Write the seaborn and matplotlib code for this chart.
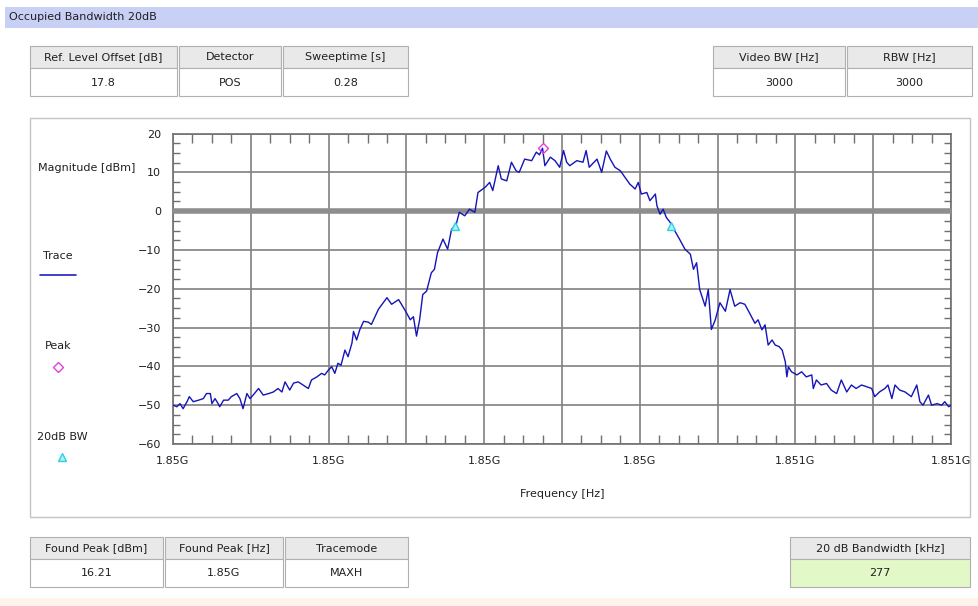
import matplotlib
matplotlib.use("Agg")
import matplotlib.pyplot as plt
from matplotlib.patches import Rectangle
from matplotlib.ticker import MultipleLocator, FuncFormatter
import seaborn as sns

# sweep start, offsets (kHz from start)
start_hz = 1.8498e9
offset_khz = [0, 5, 9, 13, 18, 21, 26, 33, 39, 43, 48, 50, 54, 58, 60, 65, 71, 75, 82, 86,
              90, 95, 99, 103, 110, 116, 123, 129, 135, 140, 144, 150, 155, 161, 167, 174, 178, 185, 191, 195,
              200, 204, 208, 212, 216, 221, 225, 230, 232, 236, 240, 245, 251, 255, 264, 275, 281, 290, 299, 305,
              309, 313, 317, 321, 326, 332, 336, 340, 347, 353, 358, 364, 368, 375, 381, 388, 392, 401, 407, 411,
              418, 422, 429, 435, 441, 445, 452, 461, 467, 471, 475, 478, 485, 491, 497, 502, 506, 510, 519, 527,
              531, 535, 545, 551, 557, 562, 568, 575, 581, 587, 594, 598, 602, 609, 613, 620, 622, 626, 630, 634,
              639, 645, 651, 658, 665, 669, 673, 677, 684, 688, 692, 697, 703, 710, 716, 722, 729, 735, 742, 748,
              752, 757, 761, 765, 770, 774, 779, 783, 787, 789, 791, 795, 802, 808, 814, 821, 823, 827, 833, 840,
              846, 853, 859, 866, 872, 878, 885, 891, 898, 902, 908, 915, 919, 924, 928, 934, 941, 949, 956, 960,
              964, 971, 975, 982, 988, 992, 997, 1000]
level_dbm = [-50.0, -50.4, -49.6, -50.9, -49.1, -47.8, -49.1, -48.7, -48.3, -47.0, -47.0, -49.6, -48.3, -49.6, -50.4, -48.7, -48.7, -47.8, -47.0, -48.3,
             -50.9, -47.0, -48.3, -47.4, -45.7, -47.4, -47.0, -46.6, -45.7, -46.6, -44.0, -46.1, -44.3, -44.0, -44.8, -45.7, -43.5, -42.7, -41.8, -42.2,
             -40.9, -40.1, -41.8, -39.2, -39.7, -35.8, -37.5, -34.0, -31.0, -33.2, -30.6, -28.4, -28.6, -29.2, -25.3, -22.3, -24.0, -22.8, -25.8, -28.0,
             -27.2, -32.2, -28.0, -21.5, -20.6, -15.9, -15.0, -10.7, -7.2, -9.8, -4.7, -3.4, -0.3, -1.2, 0.5, -0.3, 4.8, 6.1, 7.4, 5.3,
             11.7, 8.3, 7.8, 12.6, 10.4, 10.0, 13.4, 13.0, 15.2, 14.5, 16.2, 11.7, 13.9, 13.0, 11.3, 15.6, 12.6, 11.7, 13.0, 12.6,
             15.6, 11.3, 13.4, 10.0, 15.5, 13.4, 11.3, 10.4, 8.7, 7.0, 5.7, 7.4, 4.4, 4.8, 2.7, 4.4, 1.4, -0.8, 0.5, -1.6,
             -2.9, -5.1, -7.2, -9.8, -11.1, -15.0, -13.3, -20.2, -24.5, -20.2, -30.5, -28.0, -23.6, -25.8, -20.2, -24.5, -23.6, -24.0, -26.6, -28.9,
             -28.0, -30.6, -29.3, -34.5, -33.2, -34.5, -34.9, -35.8, -38.8, -42.7, -40.1, -41.4, -42.2, -41.4, -42.7, -42.2, -45.7, -43.5, -44.8, -44.4,
             -46.1, -47.0, -43.5, -46.6, -44.8, -45.7, -44.8, -45.2, -45.7, -47.8, -46.6, -45.7, -44.8, -48.3, -44.8, -46.1, -46.6, -47.8, -44.8, -49.1,
             -50.0, -47.4, -50.0, -49.6, -50.0, -49.1, -50.4, -50.0]

peak_khz = 475
peak_dbm = 16.21
bw_khz = [363, 640]
bw_dbm = [-3.79, -3.79]

top_left_head = ['Ref. Level Offset [dB]', 'Detector', 'Sweeptime [s]']
top_left_vals = ['17.8', 'POS', '0.28']
top_right_head = ['Video BW [Hz]', 'RBW [Hz]']
top_right_vals = ['3000', '3000']
bot_left_head = ['Found Peak [dBm]', 'Found Peak [Hz]', 'Tracemode']
bot_left_vals = ['16.21', '1.85G', 'MAXH']
bot_right_head = ['20 dB Bandwidth [kHz]']
bot_right_vals = ['277']

sns.set_style("white")
plt.rcParams['font.family'] = ['DejaVu Sans']
FS = 8
TXT = '#202020'

W, H = 979, 606
fig = plt.figure(figsize=(W / 100, H / 100), dpi=100)

# background layer in pixel coordinates
bg = fig.add_axes([0, 0, 1, 1], zorder=0)
bg.set_xlim(0, W)
bg.set_ylim(H, 0)
bg.axis('off')

bg.add_patch(Rectangle((5, 7), W - 5, 21, facecolor='#c8d0f6', edgecolor='none'))
bg.text(9, 17.5, 'Occupied Bandwidth 20dB', fontsize=FS, color=TXT, va='center')
bg.add_patch(Rectangle((0, 598), W, 8, facecolor='#fdf4ec', edgecolor='none'))
bg.add_patch(Rectangle((30, 118), 940, 399, facecolor='white', edgecolor='#c4c4c4', lw=1))


def table(x_edges, y0, heads, vals, val_color='white'):
    for (x0, x1), h, v in zip(x_edges, heads, vals):
        bg.add_patch(Rectangle((x0, y0), x1 - x0, 22, facecolor='#e9e9e9', edgecolor='#b0b0b0', lw=0.8))
        bg.add_patch(Rectangle((x0, y0 + 22), x1 - x0, 28, facecolor=val_color, edgecolor='#b0b0b0', lw=0.8))
        xc = (x0 + x1) / 2
        bg.text(xc, y0 + 11.5, h, fontsize=FS, color=TXT, ha='center', va='center')
        bg.text(xc, y0 + 36.5, v, fontsize=FS, color=TXT, ha='center', va='center')


table([(30, 177), (179, 281), (283, 408)], 46, top_left_head, top_left_vals)
table([(713, 845), (847, 972)], 46, top_right_head, top_right_vals)
table([(30, 163), (165, 283), (285, 408)], 537, bot_left_head, bot_left_vals)
table([(790, 970)], 537, bot_right_head, bot_right_vals, val_color='#e2f8c6')

# left side legend
bg.text(38, 168, 'Magnitude [dBm]', fontsize=FS, color=TXT, va='center')
bg.text(43, 256, 'Trace', fontsize=FS, color=TXT, va='center')
bg.plot([40, 76], [275, 275], color='#2020c0', lw=1.2)
bg.text(45, 346, 'Peak', fontsize=FS, color=TXT, va='center')
bg.plot([58], [367], marker='D', ms=5, mfc='none', mec='#e040e0', mew=1)
bg.text(37, 437, '20dB BW', fontsize=FS, color=TXT, va='center')
bg.plot([62], [457], marker='^', ms=6, mfc='#a8f2f8', mec='#30d0e0', mew=1)

# spectrum plot
ax = fig.add_axes([173 / W, (H - 444) / H, (951 - 173) / W, (444 - 133.5) / H], zorder=2)
ax.set_facecolor('white')
sns.lineplot(x=offset_khz, y=level_dbm, ax=ax, color='#1414b8', lw=1, sort=False, zorder=4)
ax.plot([peak_khz], [peak_dbm], marker='D', ms=5, mfc='none', mec='#e040e0', mew=1, zorder=5, ls='none')
ax.plot(bw_khz, bw_dbm, marker='^', ms=6, mfc='#a8f2f8', mec='#30d0e0', mew=1, zorder=5, ls='none')

ax.set_xlim(0, 1000)
ax.set_ylim(-60, 20)
ax.xaxis.set_major_locator(MultipleLocator(100))
ax.xaxis.set_minor_locator(MultipleLocator(25))
ax.yaxis.set_major_locator(MultipleLocator(10))
ax.yaxis.set_minor_locator(MultipleLocator(2.5))


def freq_label(x, pos):
    if round(x) % 200:
        return ''
    return f"{(start_hz + x * 1e3) / 1e9:.4g}G"


ax.xaxis.set_major_formatter(FuncFormatter(freq_label))
ax.grid(True, which='major', color='#808080', lw=1.2)
ax.axhline(0, color='#8e8e8e', lw=4, zorder=3)
ax.tick_params(which='major', length=0, labelsize=FS, labelcolor=TXT, pad=8.5)
ax.tick_params(axis='x', which='minor', direction='in', length=6.5, width=1, color='#707070',
               top=True, bottom=True)
ax.tick_params(axis='y', which='minor', direction='in', length=5, width=1, color='#707070',
               left=True, right=True)
for s in ax.spines.values():
    s.set_color('#707070')
    s.set_linewidth(1.2)
ax.set_xlabel('Frequency [Hz]', fontsize=FS, color=TXT, labelpad=17)
ax.set_ylabel('')

fig.savefig('out.png', dpi=100)
